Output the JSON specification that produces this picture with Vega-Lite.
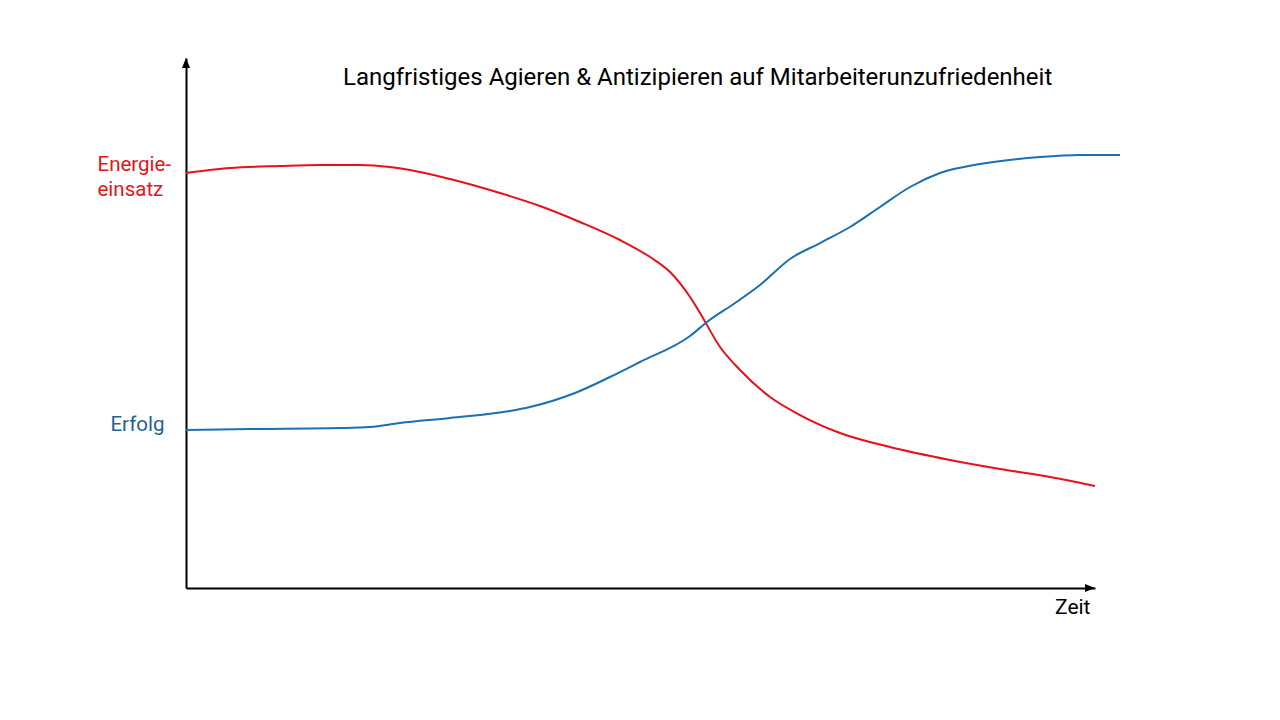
{
  "$schema": "https://vega.github.io/schema/vega-lite/v6.json",
  "autosize": {"type": "none"},
  "width": 909,
  "height": 530,
  "padding": {"left": 186, "top": 58, "right": 185, "bottom": 132},
  "background": "white",
  "title": {
    "text": "Langfristiges Agieren & Antizipieren auf Mitarbeiterunzufriedenheit",
    "frame": "group",
    "anchor": "start",
    "dx": 157,
    "dy": 51,
    "offset": 0,
    "baseline": "alphabetic",
    "font": "Roboto",
    "fontSize": 24,
    "fontWeight": "normal",
    "color": "black"
  },
  "datasets": {
    "curves": [
      {"zeit": 0, "wert": 78.3, "serie": "Energieeinsatz"},
      {"zeit": 4.84, "wert": 79.25, "serie": "Energieeinsatz"},
      {"zeit": 10.34, "wert": 79.62, "serie": "Energieeinsatz"},
      {"zeit": 14.74, "wert": 79.81, "serie": "Energieeinsatz"},
      {"zeit": 19.14, "wert": 79.81, "serie": "Energieeinsatz"},
      {"zeit": 22.44, "wert": 79.43, "serie": "Energieeinsatz"},
      {"zeit": 24.64, "wert": 78.87, "serie": "Energieeinsatz"},
      {"zeit": 29.04, "wert": 77.17, "serie": "Energieeinsatz"},
      {"zeit": 34.54, "wert": 74.53, "serie": "Energieeinsatz"},
      {"zeit": 38.94, "wert": 72.08, "serie": "Energieeinsatz"},
      {"zeit": 43.34, "wert": 69.06, "serie": "Energieeinsatz"},
      {"zeit": 47.74, "wert": 65.66, "serie": "Energieeinsatz"},
      {"zeit": 51.05, "wert": 62.45, "serie": "Energieeinsatz"},
      {"zeit": 53.25, "wert": 59.62, "serie": "Energieeinsatz"},
      {"zeit": 55.45, "wert": 54.91, "serie": "Energieeinsatz"},
      {"zeit": 56.55, "wert": 51.89, "serie": "Energieeinsatz"},
      {"zeit": 58.75, "wert": 45.47, "serie": "Energieeinsatz"},
      {"zeit": 60.95, "wert": 41.13, "serie": "Energieeinsatz"},
      {"zeit": 64.25, "wert": 36.04, "serie": "Energieeinsatz"},
      {"zeit": 67.55, "wert": 32.64, "serie": "Energieeinsatz"},
      {"zeit": 71.95, "wert": 29.25, "serie": "Energieeinsatz"},
      {"zeit": 77.45, "wert": 26.6, "serie": "Energieeinsatz"},
      {"zeit": 84.05, "wert": 24.15, "serie": "Energieeinsatz"},
      {"zeit": 89.55, "wert": 22.45, "serie": "Energieeinsatz"},
      {"zeit": 95.05, "wert": 20.94, "serie": "Energieeinsatz"},
      {"zeit": 100, "wert": 19.25, "serie": "Energieeinsatz"},
      {"zeit": 0, "wert": 29.81, "serie": "Erfolg"},
      {"zeit": 7.04, "wert": 30.0, "serie": "Erfolg"},
      {"zeit": 16.94, "wert": 30.19, "serie": "Erfolg"},
      {"zeit": 20.24, "wert": 30.38, "serie": "Erfolg"},
      {"zeit": 23.54, "wert": 31.13, "serie": "Erfolg"},
      {"zeit": 29.04, "wert": 32.08, "serie": "Erfolg"},
      {"zeit": 35.64, "wert": 33.4, "serie": "Erfolg"},
      {"zeit": 37.84, "wert": 34.15, "serie": "Erfolg"},
      {"zeit": 42.79, "wert": 36.79, "serie": "Erfolg"},
      {"zeit": 46.64, "wert": 39.81, "serie": "Erfolg"},
      {"zeit": 49.94, "wert": 42.64, "serie": "Erfolg"},
      {"zeit": 55.45, "wert": 47.55, "serie": "Erfolg"},
      {"zeit": 57.32, "wert": 50.19, "serie": "Erfolg"},
      {"zeit": 60.4, "wert": 53.77, "serie": "Erfolg"},
      {"zeit": 63.15, "wert": 57.17, "serie": "Erfolg"},
      {"zeit": 66.45, "wert": 62.08, "serie": "Erfolg"},
      {"zeit": 69.75, "wert": 65.09, "serie": "Erfolg"},
      {"zeit": 73.05, "wert": 68.11, "serie": "Erfolg"},
      {"zeit": 76.35, "wert": 71.89, "serie": "Erfolg"},
      {"zeit": 79.65, "wert": 75.66, "serie": "Erfolg"},
      {"zeit": 82.95, "wert": 78.3, "serie": "Erfolg"},
      {"zeit": 87.35, "wert": 80.0, "serie": "Erfolg"},
      {"zeit": 93.95, "wert": 81.32, "serie": "Erfolg"},
      {"zeit": 98.35, "wert": 81.7, "serie": "Erfolg"},
      {"zeit": 102.75, "wert": 81.7, "serie": "Erfolg"}
    ],
    "arrows": [
      {"zeit": 100, "wert": 0, "richtung": "x"},
      {"zeit": 0, "wert": 100, "richtung": "y"}
    ]
  },
  "layer": [
    {
      "data": {"name": "curves"},
      "mark": {"type": "line", "strokeWidth": 2, "interpolate": "monotone", "clip": false},
      "encoding": {
        "x": {
          "field": "zeit",
          "type": "quantitative",
          "scale": {"domain": [0, 100], "nice": false, "zero": false},
          "axis": {
            "domain": true,
            "domainColor": "black",
            "domainWidth": 2,
            "ticks": false,
            "labels": false,
            "grid": false,
            "title": "Zeit",
            "titleFont": "Roboto",
            "titleFontSize": 21,
            "titleFontWeight": "normal",
            "titleColor": "black",
            "titleAlign": "right",
            "titleAnchor": null,
            "titleX": 904,
            "titleY": 25,
            "titleBaseline": "alphabetic"
          }
        },
        "y": {
          "field": "wert",
          "type": "quantitative",
          "scale": {"domain": [0, 100], "nice": false, "zero": false},
          "axis": {
            "domain": true,
            "domainColor": "black",
            "domainWidth": 2,
            "ticks": false,
            "grid": false,
            "title": ["Energie-", "einsatz"],
            "titleAngle": 0,
            "titleAlign": "left",
            "titleBaseline": "alphabetic",
            "titleX": -89,
            "titleY": 112,
            "titleColor": "#e3141c",
            "titleFont": "Roboto",
            "titleFontSize": 20.5,
            "titleFontWeight": "normal",
            "titleLineHeight": 25,
            "values": [30.94],
            "labelExpr": "'Erfolg'",
            "labelColor": "#1f6391",
            "labelFont": "Roboto",
            "labelFontSize": 20.5,
            "labelAlign": "right",
            "labelBaseline": "middle",
            "labelPadding": 22,
            "labelOverlap": false
          }
        },
        "color": {
          "field": "serie",
          "type": "nominal",
          "scale": {"domain": ["Energieeinsatz", "Erfolg"], "range": ["#e8101a", "#1a70b2"]},
          "legend": null
        }
      }
    },
    {
      "data": {"name": "arrows"},
      "mark": {"type": "point", "filled": true, "color": "black", "opacity": 1, "size": 100, "clip": false},
      "encoding": {
        "x": {"field": "zeit", "type": "quantitative"},
        "y": {"field": "wert", "type": "quantitative"},
        "shape": {
          "field": "richtung",
          "type": "nominal",
          "scale": {"domain": ["x", "y"], "range": ["M 0 0 L -2 -0.8 L -2 0.8 Z", "M 0 0 L -0.8 2 L 0.8 2 Z"]},
          "legend": null
        }
      }
    }
  ],
  "config": {
    "view": {"stroke": null},
    "font": "Roboto"
  }
}
